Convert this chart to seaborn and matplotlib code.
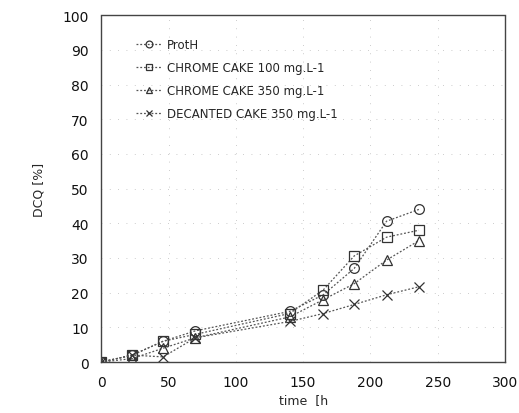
import matplotlib
matplotlib.use("Agg")
import matplotlib.pyplot as plt
import seaborn as sns
import pandas as pd

time_h = [0, 23, 46, 70, 140, 165, 188, 212, 236]
proth = [0, 2, 6, 9, 14.6, 19.4, 27, 40.6, 44]
chrome_100 = [0, 2, 6, 8, 14, 20.8, 30.6, 36, 38]
chrome_350 = [0, 1, 4, 7, 13, 18, 22.6, 29.4, 35]
decanted_350 = [0, 2, 1.5, 7, 11.7, 14, 16.6, 19.4, 21.7]
labels = ["ProtH", "CHROME CAKE 100 mg.L-1", "CHROME CAKE 350 mg.L-1", "DECANTED CAKE 350 mg.L-1"]
series = [proth, chrome_100, chrome_350, decanted_350]
markers = ["o", "s", "^", "x"]

sns.set_style("white")
plt.rcParams['font.family'] = ['DejaVu Sans']

fig = plt.figure(figsize=(5.19, 4.14), dpi=100)
ax = fig.add_axes([0.195, 0.123, 0.778, 0.838])

for lab, vals, m in zip(labels, series, markers):
    df = pd.DataFrame({"time": time_h, "DCQ": vals})
    sns.lineplot(data=df, x="time", y="DCQ", ax=ax, label=lab, color="#555555",
                 linestyle=(0, (1.5, 1.5)), linewidth=0.9, marker=m,
                 markersize=7, markerfacecolor="none", markeredgecolor="#333333",
                 markeredgewidth=0.9)

ax.set_xlim(0, 300)
ax.set_ylim(0, 100)
ax.set_xticks(range(0, 301, 50))
ax.set_yticks(range(0, 101, 10))
ax.tick_params(labelsize=10, length=0, pad=9, colors="#111111")
ax.grid(True, linestyle=(0, (1, 9)), color="#bbbbbb", linewidth=0.6)
for s in ax.spines.values():
    s.set_linestyle((0, (1, 1)))
    s.set_linewidth(1.0)
    s.set_color("#444444")
ax.set_xlabel("time  [h", fontsize=9, labelpad=3)
ax.set_ylabel("DCQ [%]", fontsize=9, labelpad=12)
leg = ax.legend(loc="upper left", bbox_to_anchor=(0.06, 0.965), frameon=False,
                fontsize=8.5, handlelength=2.2, labelspacing=0.85, handletextpad=0.4,
                markerscale=0.7)
fig.savefig("out.png", dpi=100)
